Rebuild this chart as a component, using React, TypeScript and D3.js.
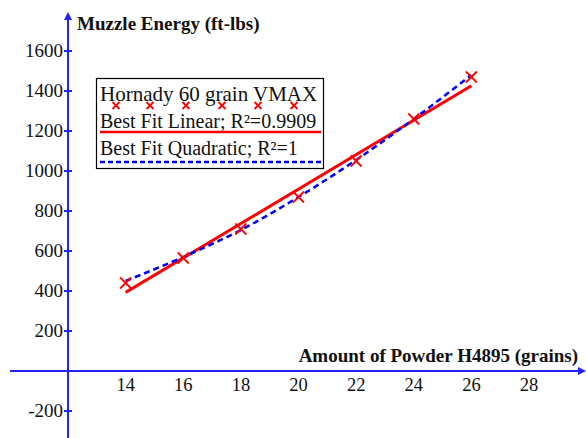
import React from "react";
import * as d3 from "d3";

// powder charge (grains) and measured muzzle energy (ft-lbs)
const powder = [14, 16, 18, 20, 22, 24, 26];
const energy = [440, 565, 710, 870, 1050, 1260, 1470];
// quadratic best fit read at each charge
const quadFit = [450, 570, 705, 870, 1055, 1260, 1480];
// linear best fit end points
const linFitX = [14, 26];
const linFitY = [393, 1426];

const xTicks = [14, 16, 18, 20, 22, 24, 26, 28];
const yTicks = [-200, 200, 400, 600, 800, 1000, 1200, 1400, 1600];

const W = 586;
const H = 438;
const AXIS = "#2222ff";
const FONT = "'Liberation Serif', 'Times New Roman', serif";

const Cross = ({ x, y, s }: { x: number; y: number; s: number }) => (
  <g stroke="#ff0000" strokeWidth={1.8}>
    <line x1={x - s} y1={y - s} x2={x + s} y2={y + s} />
    <line x1={x - s} y1={y + s} x2={x + s} y2={y - s} />
  </g>
);

const App = () => {
  const x = d3.scaleLinear().domain([12, 28]).range([68, 529]);
  const y = d3.scaleLinear().domain([-200, 1600]).range([411, 51]);

  const x0 = x(12);
  const y0 = y(0);

  const linLine = d3
    .line<number>()
    .x((d) => x(d))
    .y((d, i) => y(linFitY[i]));

  const quadLine = d3
    .line<number>()
    .x((d) => x(d))
    .y((d, i) => y(quadFit[i]))
    .curve(d3.curveMonotoneX);

  const legendMarks = [116, 150, 186, 222, 258, 294];
  const txt = { fontFamily: FONT, fill: "#111" };

  return (
    <svg
      width={W}
      height={H}
      style={{ position: "absolute", left: 0, top: 0, background: "#fff" }}
    >
      {/* axes */}
      <line x1={x0} y1={H} x2={x0} y2={18} stroke={AXIS} strokeWidth={2} />
      <path d={`M${x0 - 4},${20} L${x0},${12} L${x0 + 4},${20} Z`} fill={AXIS} />
      <line x1={10} y1={y0} x2={W - 6} y2={y0} stroke={AXIS} strokeWidth={2} />
      <path d={`M${W - 8},${y0 - 4} L${W},${y0} L${W - 8},${y0 + 4} Z`} fill={AXIS} />

      {/* y ticks */}
      {yTicks.map((t) => (
        <g key={t}>
          <line x1={x0 - 4} x2={x0 + 4} y1={y(t)} y2={y(t)} stroke={AXIS} strokeWidth={2} />
          <text x={x0 - 5} y={y(t) + 6} textAnchor="end" fontSize={19} style={txt}>
            {t}
          </text>
        </g>
      ))}

      {/* x tick labels */}
      {xTicks.map((t) => (
        <text key={t} x={x(t)} y={y0 + 20} textAnchor="middle" fontSize={18.5} style={txt}>
          {t}
        </text>
      ))}

      {/* axis titles */}
      <text x={77} y={30} fontSize={19} fontWeight="bold" style={txt}>
        Muzzle Energy (ft-lbs)
      </text>
      <text x={578} y={362} textAnchor="end" fontSize={19} fontWeight="bold" style={txt}>
        Amount of Powder H4895 (grains)
      </text>

      {/* fits */}
      <path d={linLine(linFitX) || ""} fill="none" stroke="#ff0000" strokeWidth={3} />
      <path
        d={quadLine(powder) || ""}
        fill="none"
        stroke="#0000ff"
        strokeWidth={2.5}
        strokeDasharray="6,4"
      />

      {/* data points */}
      {powder.map((p, i) => (
        <Cross key={p} x={x(p)} y={y(energy[i])} s={5.5} />
      ))}

      {/* legend */}
      <rect x={96.5} y={78.5} width={227} height={90} fill="#fff" stroke="#000" strokeWidth={1.2} />
      <text x={100} y={101} fontSize={21} style={txt}>
        Hornady 60 grain VMAX
      </text>
      {legendMarks.map((m) => (
        <Cross key={m} x={m} y={105.5} s={3.5} />
      ))}
      <text x={100} y={128} fontSize={20} style={txt}>
        Best Fit Linear; R²=0.9909
      </text>
      <line x1={100} x2={321} y1={132} y2={132} stroke="#ff0000" strokeWidth={2.5} />
      <text x={100} y={155} fontSize={20} style={txt}>
        Best Fit Quadratic; R²=1
      </text>
      <line
        x1={100}
        x2={321}
        y1={162}
        y2={162}
        stroke="#0000ff"
        strokeWidth={2.5}
        strokeDasharray="5,3"
      />
    </svg>
  );
};

export default App;
